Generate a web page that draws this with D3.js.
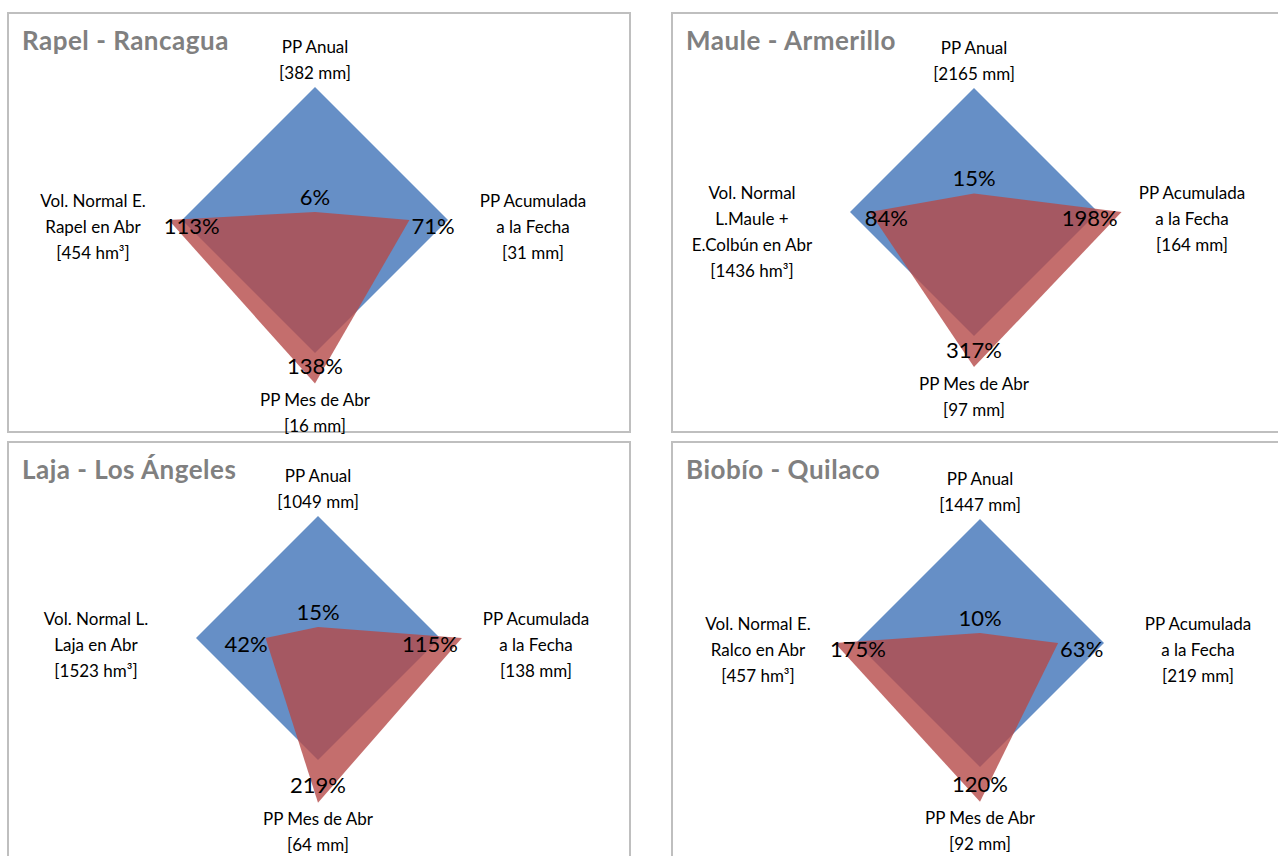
<!DOCTYPE html>
<html>
<head>
<meta charset="utf-8">
<script src="https://cdn.jsdelivr.net/npm/d3@7"></script>
<style>
  body { margin: 0; background: #fff; }
  svg { display: block; }
</style>
</head>
<body>
<div id="chart"></div>
<script>
// ---- Data ----
const titles = ["Rapel - Rancagua", "Maule - Armerillo", "Laja - Los Ángeles", "Biobío - Quilaco"];

// axis order: top, right, bottom, left
const categoryLabels = [
  [["PP Anual", "[382 mm]"], ["PP Acumulada", "a la Fecha", "[31 mm]"], ["PP Mes de Abr", "[16 mm]"], ["Vol. Normal E.", "Rapel en Abr", "[454 hm³]"]],
  [["PP Anual", "[2165 mm]"], ["PP Acumulada", "a la Fecha", "[164 mm]"], ["PP Mes de Abr", "[97 mm]"], ["Vol. Normal", "L.Maule +", "E.Colbún en Abr", "[1436 hm³]"]],
  [["PP Anual", "[1049 mm]"], ["PP Acumulada", "a la Fecha", "[138 mm]"], ["PP Mes de Abr", "[64 mm]"], ["Vol. Normal L.", "Laja en Abr", "[1523 hm³]"]],
  [["PP Anual", "[1447 mm]"], ["PP Acumulada", "a la Fecha", "[219 mm]"], ["PP Mes de Abr", "[92 mm]"], ["Vol. Normal E.", "Ralco en Abr", "[457 hm³]"]]
];

// percentage shown as label
const pctLabels = [
  [6, 71, 138, 113],
  [15, 198, 317, 84],
  [15, 115, 219, 42],
  [10, 63, 120, 175]
];

// radial value as drawn (normal = 1)
const plotted = [
  [0.06, 0.71, 1.23, 1.10],
  [0.15, 1.19, 1.25, 0.84],
  [0.09, 1.18, 1.35, 0.43],
  [0.08, 0.63, 1.28, 1.17]
];

const normal = [1, 1, 1, 1];

// ---- Layout ----
const width = 1278, height = 856;
const panels = [
  { x: 8,   y: 13,  w: 622, h: 419, cx: 315, cy: 220, r: 133 },
  { x: 672, y: 13,  w: 640, h: 419, cx: 974, cy: 212, r: 124 },
  { x: 8,   y: 442, w: 622, h: 440, cx: 318, cy: 638, r: 122 },
  { x: 672, y: 442, w: 640, h: 440, cx: 980, cy: 643, r: 124 }
];

const font = "Lato, 'Open Sans', sans-serif";
const lineH = 26;
const blue = "#668fc6";
const red = "#b54a48";

const svg = d3.select("#chart")
  .append("svg")
  .attr("width", width)
  .attr("height", height);

panels.forEach((p, k) => {
  const g = svg.append("g");

  // Panel border
  g.append("rect")
    .attr("x", p.x)
    .attr("y", p.y)
    .attr("width", p.w)
    .attr("height", p.h)
    .attr("fill", "#fff")
    .attr("stroke", "#bfbfbf")
    .attr("stroke-width", 2);

  // Title
  g.append("text")
    .attr("x", p.x + 14)
    .attr("y", p.y + 37)
    .style("font-family", font)
    .style("font-weight", "bold")
    .style("font-size", "26px")
    .style("letter-spacing", "0.5px")
    .attr("fill", "#808080")
    .text(titles[k]);

  const rScale = d3.scaleLinear().domain([0, 1]).range([0, p.r]);
  const angle = i => i * Math.PI / 2;

  const radar = d3.lineRadial()
    .angle((d, i) => angle(i))
    .radius(d => rScale(d))
    .curve(d3.curveLinearClosed);

  const plot = g.append("g").attr("transform", `translate(${p.cx},${p.cy})`);

  plot.append("path")
    .attr("d", radar(normal))
    .attr("fill", blue);

  plot.append("path")
    .attr("d", radar(plotted[k]))
    .attr("fill", red)
    .attr("fill-opacity", 0.8);

  // vertex position helper
  const pt = (v, i) => {
    const a = angle(i) - Math.PI / 2;
    return [rScale(v) * Math.cos(a), rScale(v) * Math.sin(a)];
  };

  // Percent labels
  plotted[k].forEach((v, i) => {
    const [vx, vy] = pt(v, i);
    const t = plot.append("text")
      .style("font-family", font)
      .style("font-size", "22px")
      .attr("fill", "#000")
      .attr("dominant-baseline", "central")
      .text(pctLabels[k][i] + "%");
    if (i === 0) {
      t.attr("x", vx).attr("y", vy - 16).attr("text-anchor", "middle");
    } else if (i === 2) {
      t.attr("x", vx).attr("y", vy - 18).attr("text-anchor", "middle");
    } else {
      const inward = v > 1 || (1 - v) * p.r < 30;
      if (i === 1) {
        if (inward) t.attr("x", vx - 4).attr("text-anchor", "end");
        else t.attr("x", vx + 2).attr("text-anchor", "start");
      } else {
        if (inward) t.attr("x", vx - 5).attr("text-anchor", "start");
        else t.attr("x", vx + 2).attr("text-anchor", "end");
      }
      t.attr("y", 5);
    }
  });

  // Category labels
  const maxBottom = Math.max(p.r, rScale(plotted[k][2]));
  categoryLabels[k].forEach((lines, i) => {
    let x0, y0;
    if (i === 0) { x0 = 0; y0 = -p.r - 15 - (lines.length - 1) * lineH; }
    else if (i === 1) { x0 = 218; y0 = -20; }
    else if (i === 2) { x0 = 0; y0 = maxBottom + 16; }
    else { x0 = -222; y0 = -20; }
    plot.selectAll(null)
      .data(lines)
      .join("text")
      .attr("x", x0)
      .attr("y", (d, j) => y0 + j * lineH)
      .attr("text-anchor", "middle")
      .attr("dominant-baseline", "central")
      .style("font-family", font)
      .style("font-size", "17px")
      .attr("fill", "#000")
      .text(d => d);
  });
});
</script>
</body>
</html>
